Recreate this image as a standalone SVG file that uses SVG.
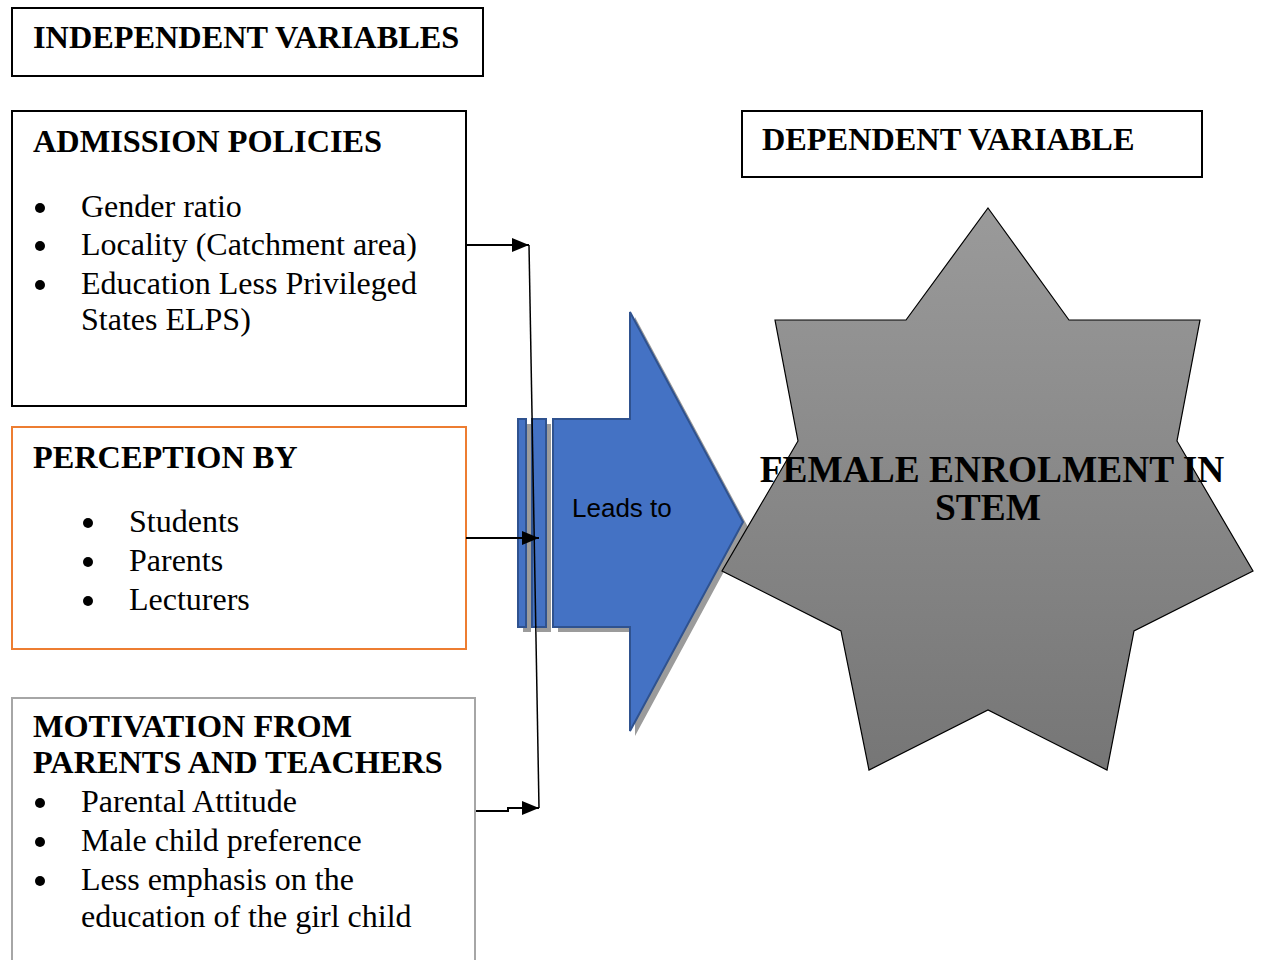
<svg xmlns="http://www.w3.org/2000/svg" width="1262" height="960" viewBox="0 0 1262 960">
<style>
.h{font-family:"Liberation Serif","Times New Roman",serif;font-weight:bold;font-size:32.3px;fill:#000}
.s{font-family:"Liberation Serif","Times New Roman",serif;font-weight:bold;font-size:37.4px;fill:#000}
.b{font-family:"Liberation Serif","Times New Roman",serif;font-size:32px;fill:#000}
.box{fill:#fff;stroke-width:2}
.con{fill:none;stroke:#000;stroke-width:2}
</style>
<defs>
<marker id="ah" viewBox="0 0 10 10" refX="10" refY="5" markerWidth="17" markerHeight="14" markerUnits="userSpaceOnUse" orient="auto" preserveAspectRatio="none">
<path d="M0,0 L10,5 L0,10 z" fill="#000"/>
</marker>
<linearGradient id="sg" x1="0" y1="0" x2="0" y2="1">
<stop offset="0" stop-color="#9a9a9a"/>
<stop offset="1" stop-color="#767676"/>
</linearGradient>
</defs>
<rect width="1262" height="960" fill="#fff"/>

<g id="independent">
<rect class="box" x="12" y="8" width="471" height="68" stroke="#000"/>
<text class="h" x="33" y="48">INDEPENDENT VARIABLES</text>
</g>

<g id="admission">
<rect class="box" x="12" y="111" width="454" height="295" stroke="#000"/>
<text class="h" x="33" y="152">ADMISSION POLICIES</text>
<circle cx="40" cy="208" r="5"/><circle cx="40" cy="246" r="5"/><circle cx="40" cy="285" r="5"/>
<text class="b" x="81" y="217">Gender ratio</text>
<text class="b" x="81" y="255">Locality (Catchment area)</text>
<text class="b" x="81" y="294">Education Less Privileged</text>
<text class="b" x="81" y="330">States ELPS)</text>
</g>

<g id="perception">
<rect class="box" x="12" y="427" width="454" height="222" stroke="#ED7D31"/>
<text class="h" x="33" y="468">PERCEPTION BY</text>
<circle cx="88" cy="523" r="5"/><circle cx="88" cy="562" r="5"/><circle cx="88" cy="601" r="5"/>
<text class="b" x="129" y="532">Students</text>
<text class="b" x="129" y="571">Parents</text>
<text class="b" x="129" y="610">Lecturers</text>
</g>

<g id="motivation">
<rect class="box" x="12" y="698" width="463" height="280" stroke="#A6A6A6"/>
<text class="h" x="33" y="737">MOTIVATION FROM</text>
<text class="h" x="33" y="773">PARENTS AND TEACHERS</text>
<circle cx="40" cy="803" r="5"/><circle cx="40" cy="842" r="5"/><circle cx="40" cy="881" r="5"/>
<text class="b" x="81" y="812">Parental Attitude</text>
<text class="b" x="81" y="851">Male child preference</text>
<text class="b" x="81" y="890">Less emphasis on the</text>
<text class="b" x="81" y="927">education of the girl child</text>
</g>

<g id="dependent">
<rect class="box" x="742" y="111" width="460" height="66" stroke="#000"/>
<text class="h" x="762" y="150">DEPENDENT VARIABLE</text>
</g>

<g id="leads-to">
<g fill="#9b9b9b" transform="translate(5,5)">
<rect x="518" y="419" width="8" height="208"/>
<rect x="532" y="419" width="14" height="208"/>
<path d="M553,419 L630,419 L630,312 L743,522 L630,731 L630,627 L553,627 Z"/>
</g>
<g fill="#4472C4" stroke="#2F528F" stroke-width="2">
<rect x="518" y="419" width="8" height="208"/>
<rect x="532" y="419" width="14" height="208"/>
<path d="M553,419 L630,419 L630,312 L743,522 L630,731 L630,627 L553,627 Z"/>
</g>
<text x="572" y="517" font-family="Liberation Sans, Arial, sans-serif" font-size="26" fill="#000">Leads to</text>
</g>

<g id="female-enrolment">
<path d="M988,208 L1069,320 L1200,320 L1177,441 L1253,571 L1134,631 L1107,770 L988,710 L869,770 L841,631 L722,571 L798,441 L775,320 L906,320 Z" fill="url(#sg)" stroke="#000" stroke-width="1.2"/>
<text class="s" x="992" y="482" text-anchor="middle">FEMALE ENROLMENT IN</text>
<text class="s" x="988" y="520" text-anchor="middle">STEM</text>
</g>

<g id="connectors">
<path class="con" d="M466,245 L529,245" marker-end="url(#ah)"/>
<path d="M529,245 L539,808" fill="none" stroke="#000" stroke-width="1.5"/>
<path class="con" d="M466,538 L539,538" marker-end="url(#ah)"/>
<path class="con" d="M476,811 L508,811 L508,808 L539,808" marker-end="url(#ah)"/>
</g>
</svg>
